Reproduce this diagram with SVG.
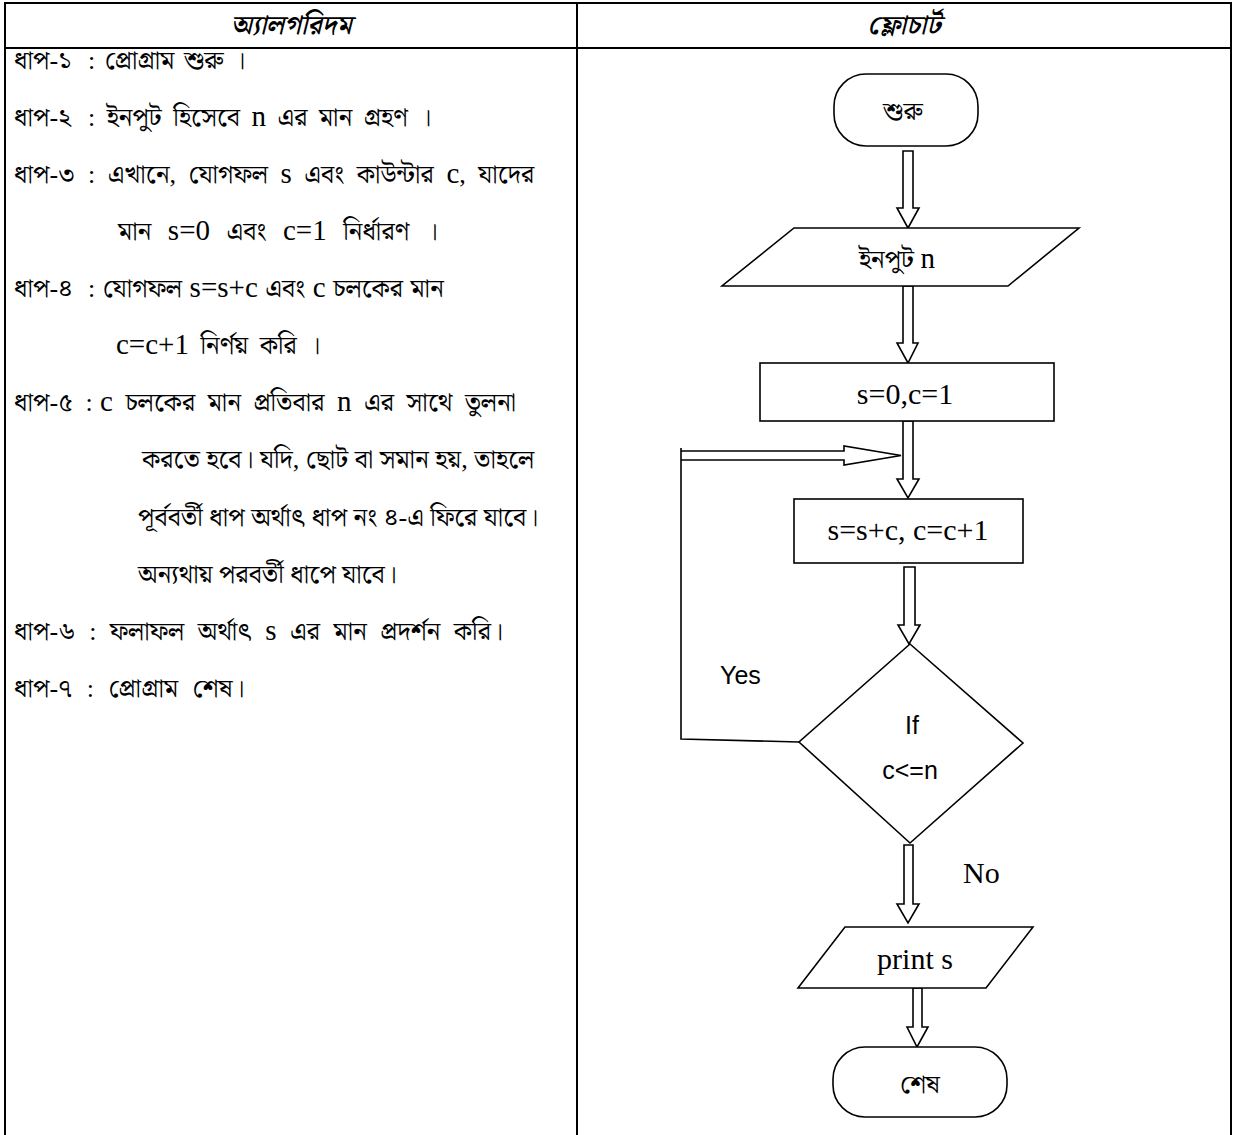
<svg xmlns="http://www.w3.org/2000/svg" width="1235" height="1135" viewBox="0 0 1235 1135">
<style>
.tbl{stroke:#000;stroke-width:2;fill:none}
.shape{fill:#fff;stroke:#000;stroke-width:1.6}
.arrow{fill:#fff;stroke:#000;stroke-width:1.6;stroke-linejoin:miter}
.line{fill:none;stroke:#000;stroke-width:1.6}
.bn{font-family:"Liberation Serif","Noto Serif Bengali","Noto Sans Bengali","Lohit Bengali",serif;font-size:26px;fill:#000;word-spacing:5px}
.lt{font-family:"Liberation Serif",serif;font-size:29px}
.hd{font-family:"Noto Serif Bengali","Noto Sans Bengali","Lohit Bengali",serif;font-size:27px;font-style:italic;font-weight:600;fill:#000}
.fl{font-family:"Liberation Serif",serif;font-size:30px;fill:#000}
.sans{font-family:"Liberation Sans","Open Sans",sans-serif;font-size:25px;fill:#000}
.nb{font-family:"Liberation Serif","Noto Serif Bengali","Noto Sans Bengali","Lohit Bengali",serif;font-size:26px;fill:#000}
.c{text-anchor:middle}
</style>
<rect width="1235" height="1135" fill="#fff"/>
<g id="table">
<path class="tbl" d="M5,1135 V3 H1231 V1135 M5,48 H1231 M577,3 V1135"/>
<text class="hd c" x="291" y="34">অ্যালগরিদম</text>
<text class="hd c" x="904" y="34">ফ্লোচার্ট</text>
</g>
<g id="algorithm">
<text class="bn" x="14" y="69" style="word-spacing:3px">ধাপ-১<tspan x="88">: প্রোগ্রাম শুরু ।</tspan></text>
<text class="bn" x="14" y="126">ধাপ-২<tspan x="88">: ইনপুট হিসেবে </tspan><tspan class="lt">n</tspan> এর মান  গ্রহণ ।</text>
<text class="bn" x="14" y="183" style="word-spacing:6px">ধাপ-৩<tspan x="88">: এখানে, যোগফল </tspan><tspan class="lt">s</tspan> এবং কাউন্টার <tspan class="lt">c</tspan>, যাদের</text>
<text class="bn" x="118" y="240" style="word-spacing:10px">মান <tspan class="lt">s=0</tspan> এবং <tspan class="lt">c=1</tspan> নির্ধারণ ।</text>
<text class="bn" x="14" y="297" style="word-spacing:1px">ধাপ-৪<tspan x="88">: যোগফল </tspan><tspan class="lt">s=s+c</tspan> এবং <tspan class="lt">c</tspan> চলকের মান</text>
<text class="bn" x="116" y="354"><tspan class="lt">c=c+1</tspan> নির্ণয় করি  ।</text>
<text class="bn" x="14" y="411" style="word-spacing:6px">ধাপ-৫ :<tspan x="100" class="lt">c</tspan> চলকের মান প্রতিবার <tspan class="lt">n</tspan> এর সাথে তুলনা</text>
<text class="bn" x="142" y="468" style="word-spacing:0">করতে হবে। যদি, ছোট বা সমান হয়, তাহলে</text>
<text class="bn" x="138" y="526" style="word-spacing:0">পূর্ববর্তী ধাপ অর্থাৎ ধাপ নং ৪-এ ফিরে যাবে।</text>
<text class="bn" x="138" y="583" style="word-spacing:0">অন্যথায় পরবর্তী ধাপে যাবে।</text>
<text class="bn" x="14" y="640" style="word-spacing:7px">ধাপ-৬ : ফলাফল অর্থাৎ <tspan class="lt">s</tspan> এর মান প্রদর্শন করি।</text>
<text class="bn" x="14" y="697" style="word-spacing:8px">ধাপ-৭ : প্রোগ্রাম শেষ।</text>
</g>
<g id="connectors">
<polygon class="arrow" points="903,151 913,151 913,208 919,208 908,228 897,208 903,208"/>
<polygon class="arrow" points="903,286 913,286 913,343 918,343 908,363 897,343 903,343"/>
<polygon class="arrow" points="903,421 913,421 913,479 919,479 908,498 897,479 903,479"/>
<polygon class="arrow" points="904,567 915,567 915,625 920,625 909,644 898,625 904,625"/>
<polygon class="arrow" points="904,845 913,845 913,904 919,904 908,923 897,904 904,904"/>
<polygon class="arrow" points="913,988 922,988 922,1027 928,1027 917,1047 907,1027 913,1027"/>
<path class="arrow" d="M681,451 H844 V446 L901,455.5 L844,465 V460 H681"/>
<path class="line" d="M681,448 V739 L799,742"/>
<text class="sans" x="720" y="684">Yes</text>
<text class="fl" x="963" y="883">No</text>
</g>
<g id="start">
<rect class="shape" x="834" y="74" width="144" height="72" rx="32"/>
<text class="nb c" x="903" y="120">শুরু</text>
</g>
<g id="input">
<polygon class="shape" points="794,228 1079,228 1008,286 722,286"/>
<text class="nb c" x="897" y="268">ইনপুট <tspan class="lt">n</tspan></text>
</g>
<g id="init">
<rect class="shape" x="760" y="363" width="294" height="58"/>
<text class="fl c" x="905" y="404">s=0,c=1</text>
</g>
<g id="process">
<rect class="shape" x="794" y="499" width="229" height="64"/>
<text class="fl c" x="908" y="540">s=s+c, c=c+1</text>
</g>
<g id="decision">
<polygon class="shape" points="910,644 1023,743 910,843 799,742"/>
<text class="sans c" x="912" y="734">If</text>
<text class="sans c" x="910" y="779">c&lt;=n</text>
</g>
<g id="output">
<polygon class="shape" points="845,927 1033,927 986,988 798,988"/>
<text class="fl c" x="915" y="969">print s</text>
</g>
<g id="end">
<rect class="shape" x="833" y="1047" width="174" height="70" rx="32"/>
<text class="nb c" x="920" y="1093">শেষ</text>
</g>
</svg>
